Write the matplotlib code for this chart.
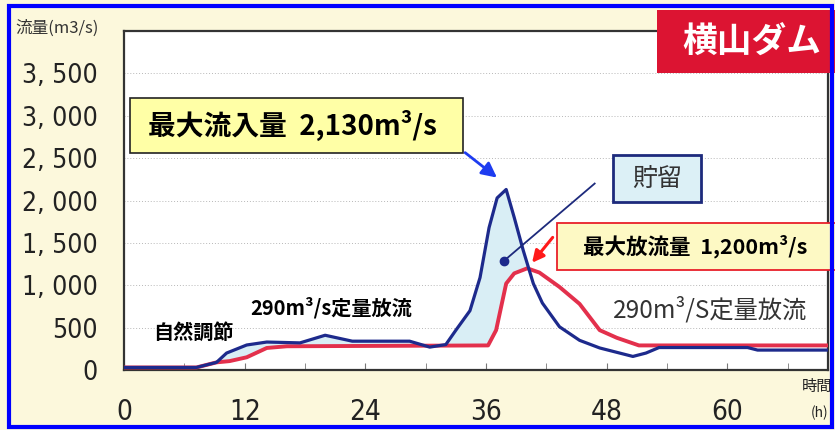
import numpy as np
import matplotlib
matplotlib.use("Agg")
import matplotlib.pyplot as plt
from matplotlib.patches import Rectangle

# hydrograph for the flood event (hours, m3/s)
hours_in = [0, 7.2, 9.2, 10.2, 12.2, 14.2, 17.5, 20, 22.7, 28.4, 30.4, 32, 33,
            34.4, 35.4, 36.3, 37.1, 38, 38.8, 39.7, 40.7, 41.6, 43.3, 45.3,
            47.3, 50.6, 51.9, 53.2, 62, 63, 70]
inflow = [30, 30, 90, 200, 295, 330, 320, 410, 340, 340, 270, 300, 470,
          700, 1090, 1680, 2030, 2130, 1800, 1410, 1020, 790, 510, 350,
          260, 160, 200, 265, 265, 235, 235]

hours_out = [0, 7.2, 9.2, 10.5, 12.2, 14.2, 16.2, 36.2, 37, 38, 38.8, 40.1,
             41.3, 43.3, 45.3, 47.3, 49, 51.2, 70]
outflow = [30, 30, 90, 105, 150, 260, 280, 290, 470, 1020, 1140, 1200,
           1150, 980, 780, 470, 380, 290, 290]

peak_in = 2130
peak_out = 1200
y_ticks = [0, 500, 1000, 1500, 2000, 2500, 3000, 3500]
y_labels = ["0", "500", "1, 000", "1, 500", "2, 000", "2, 500", "3, 000", "3, 500"]
x_ticks = [0, 12, 24, 36, 48, 60]

plt.rcParams["font.family"] = ["Noto Sans CJK JP", "DejaVu Sans"]
num_font = dict(fontfamily="DejaVu Sans", fontstretch="condensed", color="#222222")

fig = plt.figure(figsize=(8.35, 4.3), dpi=100, facecolor="#fcf8dc")
ax = fig.add_axes([124 / 835, 1 - 370 / 430, 704 / 835, 339 / 430])
ax.set_facecolor("white")
ax.set_xlim(0, 70)
ax.set_ylim(0, 4000)

for v in y_ticks[1:]:
    ax.axhline(v, color="#b8b8b8", lw=0.7, ls=(0, (1, 2)), zorder=1)

# storage area between inflow and outflow
grid = np.union1d(hours_in, hours_out)
gi = np.interp(grid, hours_in, inflow)
go = np.interp(grid, hours_out, outflow)
ax.fill_between(grid, gi, go, where=gi > go, interpolate=True,
                color="#d9eef5", zorder=2)

ax.plot(hours_in, inflow, color="#1d2a8c", lw=2.3, zorder=4)
ax.plot(hours_out, outflow, color="#e3304c", lw=2.8, zorder=3)

for s in ax.spines.values():
    s.set_color("#333333")
    s.set_linewidth(1.6)

ax.set_yticks(y_ticks)
ax.set_yticklabels(y_labels, fontsize=19, **num_font)
ax.set_xticks(x_ticks)
ax.set_xticklabels([str(x) for x in x_ticks], fontsize=20, **num_font)
ax.set_xticks(np.arange(6, 70, 12), minor=True)
ax.tick_params(axis="y", length=0, pad=19)
ax.tick_params(axis="x", which="both", direction="in", length=5, color="#777777", pad=20)

# max inflow callout
ax.add_patch(Rectangle((0.6, 2560), 33.1, 650, facecolor="#ffffa6",
                       edgecolor="#222222", lw=1.2, zorder=6, clip_on=False))
ax.text(2.4, 2885, "最大流入量  2,130m³/s", fontsize=20, fontweight="bold",
        va="center", ha="left", zorder=7)
ax.annotate("", xy=(37.3, peak_in + 120), xytext=(33.7, 2585),
            arrowprops=dict(arrowstyle="-|>,head_length=0.9,head_width=0.45",
                            color="#1e3cf0", lw=2), zorder=7)

# storage callout
ax.add_patch(Rectangle((48.6, 1980), 8.8, 555, facecolor="#dcf0f6",
                       edgecolor="#1d2a7c", lw=2, zorder=6))
ax.text(53.0, 2250, "貯留", fontsize=18, color="#333333", ha="center",
        va="center", zorder=7)
ax.plot([37.8, 46.8], [1290, 2200], color="#1d2a7c", lw=1.3, zorder=5)
ax.plot([37.8], [1290], "o", color="#1d2a8c", ms=6, zorder=5)

# max outflow callout
ax.add_patch(Rectangle((43.1, 1175), 28, 565, facecolor="#fdf9c4",
                       edgecolor="#e8202a", lw=1.3, zorder=6, clip_on=False))
ax.text(45.6, 1460, "最大放流量  1,200m³/s", fontsize=15.5, fontweight="bold",
        va="center", ha="left", zorder=7)
ax.annotate("", xy=(40.4, peak_out + 40), xytext=(42.8, 1590),
            arrowprops=dict(arrowstyle="-|>,head_length=0.7,head_width=0.35",
                            color="#ff1a1a", lw=2.2), zorder=7)

ax.text(48.6, 700, "290m³/S定量放流", fontsize=17.5, color="#333333",
        va="center", ha="left", zorder=5)
ax.text(12.6, 740, "290m³/s定量放流", fontsize=14.5, fontweight="bold",
        va="center", ha="left", zorder=5)
ax.text(2.9, 445, "自然調節", fontsize=14.5, fontweight="bold",
        va="center", ha="left", zorder=5)

# labels outside the plot
fig.text(15 / 835, 1 - 28 / 430, "流量(m3/s)", fontsize=12, color="#333333", va="center")
fig.text(817 / 835, 1 - 386 / 430, "時間", fontsize=11, color="#222222",
         ha="center", va="center")
fig.text(820 / 835, 1 - 413 / 430, "(h)", fontsize=10, color="#222222",
         ha="center", va="center")

# dam name plate
fig.patches.append(Rectangle((657 / 835, 1 - 73 / 430), 178 / 835, 63 / 430,
                             transform=fig.transFigure, facecolor="#dc1432",
                             edgecolor="none", zorder=10))
fig.text(752 / 835, 1 - 42 / 430, "横山ダム", fontsize=25, fontweight="bold",
         color="white", ha="center", va="center", zorder=11)

# outer frame
fig.patches.append(Rectangle((9 / 835, 3 / 430), 823 / 835, 421 / 430,
                             transform=fig.transFigure, facecolor="none",
                             edgecolor="#0000ff", lw=3, zorder=12))

fig.savefig("out.png", dpi=100, facecolor=fig.get_facecolor())
